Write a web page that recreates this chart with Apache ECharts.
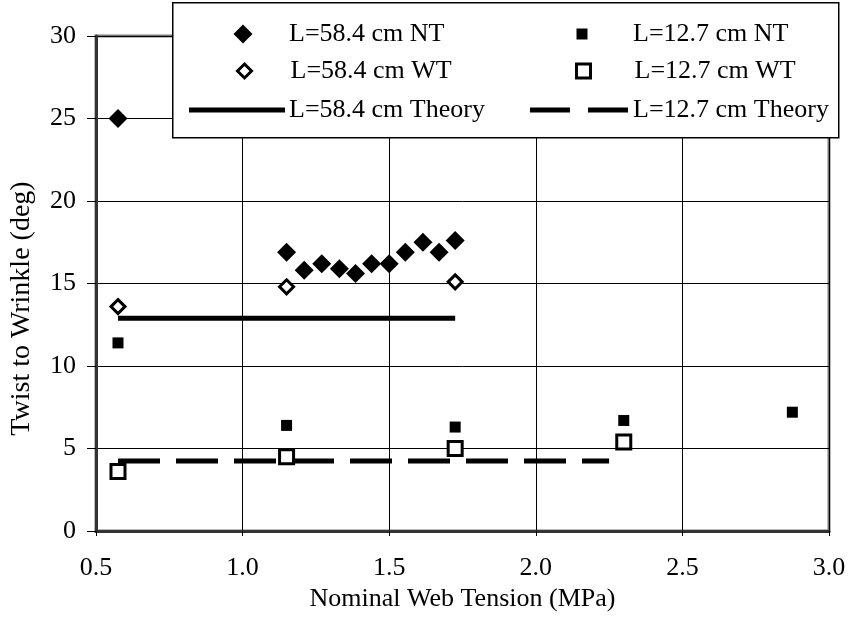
<!DOCTYPE html>
<html>
<head>
<meta charset="utf-8">
<script src="https://cdn.jsdelivr.net/npm/echarts@6/dist/echarts.min.js"></script>
<style>
  html, body { margin: 0; padding: 0; background: #fff; }
  #chart { width: 851px; height: 617px; }
</style>
</head>
<body>
<div id="chart"></div>
<script>
// data
var long_nt = [[0.575, 25.0], [1.15, 16.9], [1.21, 15.8], [1.27, 16.2], [1.33, 15.9], [1.385, 15.6],
               [1.44, 16.2], [1.50, 16.2], [1.555, 16.9], [1.615, 17.5], [1.67, 16.9], [1.725, 17.6]];
var long_wt = [[0.575, 13.6], [1.15, 14.8], [1.725, 15.1]];
var short_nt = [[0.575, 11.4], [1.15, 6.4], [1.725, 6.3], [2.30, 6.7], [2.875, 7.2]];
var short_wt = [[0.575, 3.6], [1.15, 4.5], [1.725, 5.0], [2.30, 5.4]];
var long_theory = [[0.575, 12.9], [1.725, 12.9]];
var short_theory = [[0.575, 4.25], [2.25, 4.25]];
var names = ['L=58.4 cm NT', 'L=12.7 cm NT', 'L=58.4 cm WT', 'L=12.7 cm WT', 'L=58.4 cm Theory', 'L=12.7 cm Theory'];

var font = 'Liberation Serif';

// one legend per entry so each can sit where the original puts it
// cx: icon centre x, cy: row centre y, tx: where the text starts
function oneLegend(name, cx, cy, tx, w, h, extra) {
    var item = Object.assign({ name: name }, extra || {});
    var left = cx - w / 2;
    return {
        data: [item],
        left: left, top: cy - 13, itemWidth: w, itemHeight: h,
        padding: 0, selectedMode: false,
        textStyle: { fontFamily: font, fontSize: 26, color: '#000', padding: [0, 0, 0, tx - (left + w + 5)] }
    };
}

var chart = echarts.init(document.getElementById('chart'));
var option = {
    backgroundColor: '#fff',
    animation: false,
    grid: { left: 94, right: 22, top: 36, bottom: 86, show: true, borderColor: '#777', borderWidth: 3, backgroundColor: 'transparent' },
    graphic: [{
        type: 'rect', z: 3, left: 172, top: 2,
        shape: { width: 666, height: 135 },
        style: { fill: '#fff', stroke: '#000', lineWidth: 1.5 }
    }],
    legend: [
        oneLegend(names[0], 243, 34, 289, 19, 19),
        oneLegend(names[1], 582, 34, 633, 11, 11),
        oneLegend(names[2], 243, 71, 289, 14, 14, { itemStyle: { borderWidth: 3, borderColor: '#000', color: '#fff' } }),
        oneLegend(names[3], 582, 71, 633, 14, 14, { itemStyle: { borderWidth: 3, borderColor: '#000', color: '#fff' } }),
        oneLegend(names[4], 237, 110, 289, 96, 5, { icon: 'rect' }),
        oneLegend(names[5], 579, 110, 633, 98, 5, { icon: 'path://M0,0h40v5h-40z M58,0h40v5h-40z' })
    ],
    xAxis: {
        type: 'value', min: 0.5, max: 3.0, interval: 0.5,
        name: 'Nominal Web Tension (MPa)', nameLocation: 'middle', nameGap: 49,
        nameTextStyle: { fontFamily: font, fontSize: 26, color: '#000' },
        axisLine: { lineStyle: { color: '#333', width: 3 } },
        axisTick: { show: true, length: 5, lineStyle: { color: '#000' } },
        axisLabel: { fontFamily: font, fontSize: 26, color: '#000', margin: 24, formatter: function (v) { return v.toFixed(1); } },
        splitLine: { lineStyle: { color: '#000', width: 1 } }
    },
    yAxis: {
        type: 'value', min: 0, max: 30, interval: 5,
        name: 'Twist to Wrinkle (deg)', nameLocation: 'middle', nameGap: 60,
        nameTextStyle: { fontFamily: font, fontSize: 28, color: '#000', padding: [0, 50, 0, 0] },
        axisLine: { show: true, lineStyle: { color: '#333', width: 3 } },
        axisTick: { show: true, length: 9, lineStyle: { color: '#000' } },
        axisLabel: { fontFamily: font, fontSize: 26, color: '#000', margin: 20 },
        splitLine: { lineStyle: { color: '#000', width: 1 } }
    },
    series: [
        {
            name: names[4], type: 'line', data: long_theory, symbol: 'none',
            lineStyle: { color: '#000', width: 5 }, itemStyle: { color: '#000' }
        },
        {
            name: names[5], type: 'line', data: short_theory, symbol: 'none',
            lineStyle: { color: '#000', width: 5, type: [42, 16] }, itemStyle: { color: '#000' }
        },
        {
            name: names[0], type: 'scatter', data: long_nt, symbol: 'diamond', symbolSize: 19,
            itemStyle: { color: '#000', opacity: 1 }
        },
        {
            name: names[2], type: 'scatter', data: long_wt, symbol: 'diamond', symbolSize: 14,
            itemStyle: { color: '#fff', borderColor: '#000', borderWidth: 3, opacity: 1 }
        },
        {
            name: names[1], type: 'scatter', data: short_nt, symbol: 'rect', symbolSize: 11,
            itemStyle: { color: '#000', opacity: 1 }
        },
        {
            name: names[3], type: 'scatter', data: short_wt, symbol: 'rect', symbolSize: 14,
            itemStyle: { color: '#fff', borderColor: '#000', borderWidth: 3, opacity: 1 }
        }
    ]
};
chart.setOption(option);
</script>
</body>
</html>
